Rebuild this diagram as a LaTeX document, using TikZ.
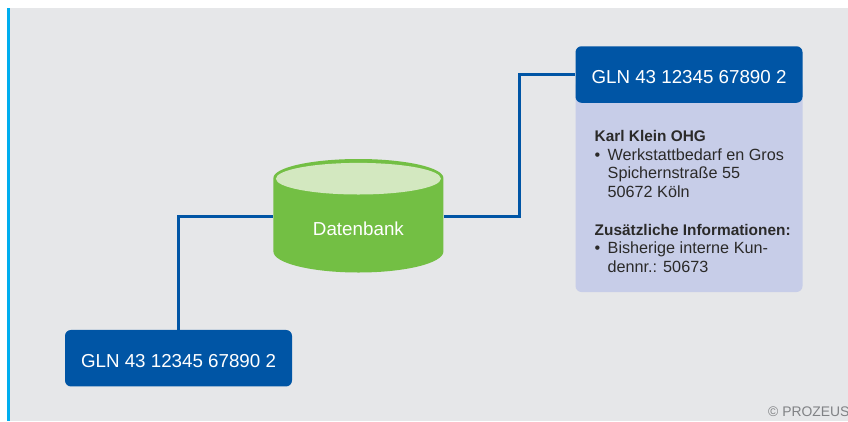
\documentclass[tikz,border=0pt]{standalone}
\usepackage{fontspec}
\setmainfont{Liberation Sans}
\definecolor{panelgrey}{HTML}{E6E7E9}
\definecolor{stripblue}{HTML}{00AEEF}
\definecolor{glnblue}{HTML}{0055A5}
\definecolor{dbgreen}{HTML}{73BF44}
\definecolor{dbtop}{HTML}{D3E8C0}
\definecolor{lilac}{HTML}{C7CDE8}
\definecolor{bodyink}{HTML}{2B2A29}
\definecolor{creditgrey}{HTML}{808285}
\tikzset{
  x=1pt,y=-1pt,
  glnbox/.style={fill=glnblue,rounded corners=6pt,minimum width=227pt,minimum height=56.5pt,inner sep=0pt,text=white,text height=18pt,text depth=0pt,font=\fontsize{18.75}{20}\selectfont},
  wire/.style={draw=glnblue,line width=3pt},
  infopanel/.style={fill=lilac,rounded corners=6pt,minimum width=227pt,inner sep=0pt},
  infotext/.style={text=bodyink,inner sep=0pt,align=left,font=\fontsize{16.2}{18.65}\selectfont},
  dbanchor/.style={minimum width=170pt,minimum height=114pt,inner sep=0pt}
}
\newcommand{\bulletitem}{\makebox[13pt][l]{•}}
\newcommand{\headline}[1]{{\fontsize{15.4}{18.65}\selectfont\bfseries #1}}
\begin{document}
\begin{tikzpicture}
\useasboundingbox (0,0) rectangle (848,421);
\clip (0,0) rectangle (848,421);
\fill[panelgrey] (7,8) rectangle (848,421);
\fill[stripblue] (7,8) rectangle (10,421);
% nodes
\node[dbanchor] (db) at (358.4,216) {};
\node[infopanel,minimum height=212pt] (info) at (689,186) {};
\node[glnbox] (glnright) at (689,74.5) {GLN 43 12345 67890 2};
\node[glnbox] (glnleft) at (178.5,358.2) {GLN 43 12345 67890 2};
% connectors
\draw[wire] (glnleft.north) |- (db.west);
\draw[wire] (db.east) -| (519,74.5) -- (glnright.west);
% cylinder
\fill[dbgreen] (273.4,178) -- (273.4,251.5) arc[start angle=180,end angle=360,x radius=85,y radius=-21] -- (443.4,178) arc[start angle=0,end angle=180,x radius=85,y radius=-19] -- cycle;
\fill[dbtop] (358.4,178.7) ellipse[x radius=82.5,y radius=15.8];
\node[text=white,inner sep=0pt,font=\fontsize{18.8}{20}\selectfont] (dblabel) at (358.4,228.5) {Datenbank};
% info text
\node[infotext,anchor=north west] (infobody) at (594.5,130.3) {\headline{Karl Klein OHG}\\
\bulletitem Werkstattbedarf en Gros\\
\hspace*{13pt}Spichernstraße 55\\
\hspace*{13pt}50672 Köln\\[19pt]
\headline{Zusätzliche Informationen:}\\
\bulletitem Bisherige interne Kun-\\
\hspace*{13pt}dennr.: 50673};
\node[anchor=base west,inner sep=0pt,text=creditgrey,font=\fontsize{13.9}{15}\selectfont] (credit) at (768,416) {© PROZEUS};
\end{tikzpicture}
\end{document}
